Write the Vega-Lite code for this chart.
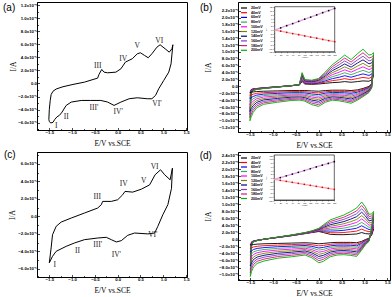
{
"$schema":"https://vega.github.io/schema/vega-lite/v6.json",
"background":"white",
"padding":{"left":2,"top":1,"right":0,"bottom":0},
"columns":2,
"align":"each",
"spacing":{"column":9,"row":0},
"resolve":{"scale":{"color":"independent"},"legend":{"color":"independent"}},
"config":{
"view":{"stroke":"#000","strokeWidth":1},
"axis":{"domainColor":"#000","domainWidth":1,"tickColor":"#000","tickWidth":0.7,"labelColor":"#000","labelFont":"Liberation Sans","labelFontSize":4.3,"labelFontWeight":"bold","titleFont":"Liberation Serif","titleFontSize":7.5,"titleFontWeight":"normal","titleColor":"#000","grid":false,"labelOverlap":false,"labelFlush":false,"labelBound":false},
"text":{"font":"Liberation Serif"},
"line":{"strokeJoin":"round"}
},
"datasets":{
"a":[{"x":-1.51,"y":-5.5},{"x":-1.5,"y":-4.0},{"x":-1.48,"y":-2.6},{"x":-1.46,"y":-1.7},{"x":-1.42,"y":-1.2},{"x":-1.35,"y":-0.85},{"x":-1.2,"y":-0.5},{"x":-0.98,"y":-0.15},{"x":-0.73,"y":0.2},{"x":-0.44,"y":0.82},{"x":-0.41,"y":1.38},{"x":-0.35,"y":2.14},{"x":-0.3,"y":1.73},{"x":-0.22,"y":1.63},{"x":-0.04,"y":1.73},{"x":0.07,"y":2.24},{"x":0.17,"y":3.27},{"x":0.32,"y":3.78},{"x":0.43,"y":4.54},{"x":0.5,"y":4.69},{"x":0.59,"y":4.28},{"x":0.67,"y":3.93},{"x":0.75,"y":4.54},{"x":0.86,"y":5.55},{"x":0.93,"y":5.92},{"x":1.04,"y":5.31},{"x":1.13,"y":4.79},{"x":1.19,"y":5.31},{"x":1.21,"y":5.92},{"x":1.17,"y":3.0},{"x":1.12,"y":1.73},{"x":1.01,"y":0.46},{"x":0.9,"y":-0.81},{"x":0.83,"y":-1.83},{"x":0.75,"y":-2.34},{"x":0.65,"y":-2.34},{"x":0.43,"y":-2.19},{"x":0.25,"y":-2.34},{"x":0.07,"y":-2.85},{"x":-0.08,"y":-3.36},{"x":-0.22,"y":-2.85},{"x":-0.37,"y":-2.6},{"x":-0.59,"y":-2.6},{"x":-0.8,"y":-2.6},{"x":-1.02,"y":-2.85},{"x":-1.13,"y":-3.36},{"x":-1.22,"y":-4.38},{"x":-1.28,"y":-4.89},{"x":-1.33,"y":-5.1},{"x":-1.38,"y":-5.5},{"x":-1.42,"y":-5.95},{"x":-1.47,"y":-6.05},{"x":-1.5,"y":-5.8},{"x":-1.51,"y":-5.5}],
"aL":[{"t":"I","x":-1.35,"y":-6.57},{"t":"II","x":-1.13,"y":-5.2},{"t":"III","x":-0.44,"y":2.6},{"t":"IV","x":0.12,"y":3.8},{"t":"V","x":0.43,"y":5.66},{"t":"VI","x":0.91,"y":6.5},{"t":"III'","x":-0.52,"y":-3.8},{"t":"IV'","x":0.01,"y":-4.4},{"t":"VI'","x":0.86,"y":-3.1}],
"c":[{"x":-1.5,"y":-5.3},{"x":-1.46,"y":-3.6},{"x":-1.43,"y":-2.1},{"x":-1.35,"y":-1.14},{"x":-1.24,"y":-0.65},{"x":-1.02,"y":-0.19},{"x":-0.73,"y":0.38},{"x":-0.44,"y":0.95},{"x":-0.36,"y":1.33},{"x":-0.33,"y":1.71},{"x":-0.14,"y":1.71},{"x":0.0,"y":1.9},{"x":0.11,"y":2.47},{"x":0.16,"y":2.85},{"x":0.33,"y":2.77},{"x":0.52,"y":3.11},{"x":0.7,"y":3.6},{"x":0.82,"y":4.75},{"x":0.94,"y":5.32},{"x":1.03,"y":4.75},{"x":1.15,"y":4.18},{"x":1.2,"y":5.5},{"x":1.18,"y":3.2},{"x":1.1,"y":1.33},{"x":0.99,"y":0.19},{"x":0.88,"y":-1.14},{"x":0.81,"y":-1.9},{"x":0.66,"y":-2.0},{"x":0.37,"y":-1.9},{"x":0.22,"y":-2.16},{"x":0.08,"y":-2.77},{"x":-0.03,"y":-2.92},{"x":-0.14,"y":-2.66},{"x":-0.25,"y":-2.39},{"x":-0.44,"y":-2.47},{"x":-0.73,"y":-2.66},{"x":-0.95,"y":-3.04},{"x":-1.13,"y":-3.42},{"x":-1.35,"y":-3.99},{"x":-1.43,"y":-4.56},{"x":-1.5,"y":-5.3}],
"cL":[{"t":"I","x":-1.38,"y":-5.5},{"t":"II","x":-0.88,"y":-3.9},{"t":"III","x":-0.45,"y":2.16},{"t":"III'","x":-0.44,"y":-3.3},{"t":"IV","x":0.13,"y":3.68},{"t":"IV'","x":-0.03,"y":-4.44},{"t":"V","x":0.57,"y":3.99},{"t":"VI","x":0.81,"y":5.62},{"t":"VI'","x":0.77,"y":-2.16}],
"b":[
{"x":-1.5,"b":"u","20mV":-1.8,"40mV":-2.7,"60mV":-3.6,"80mV":-4.5,"100mV":-5.4,"120mV":-6.4,"140mV":-7.3,"160mV":-8.2,"180mV":-9.1,"200mV":-10},
{"x":-1.47,"b":"u","20mV":-0.9,"40mV":-1,"60mV":-1.1,"80mV":-1.3,"100mV":-1.4,"120mV":-1.5,"140mV":-1.6,"160mV":-1.8,"180mV":-1.9,"200mV":-2},
{"x":-1.43,"b":"u","20mV":-0.7,"40mV":-0.76,"60mV":-0.81,"80mV":-0.87,"100mV":-0.92,"120mV":-0.98,"140mV":-1.03,"160mV":-1.09,"180mV":-1.14,"200mV":-1.2},
{"x":-1.35,"b":"u","20mV":-0.6,"40mV":-0.63,"60mV":-0.67,"80mV":-0.7,"100mV":-0.73,"120mV":-0.77,"140mV":-0.8,"160mV":-0.83,"180mV":-0.87,"200mV":-0.9},
{"x":-1.2,"b":"u","20mV":-0.4,"40mV":-0.42,"60mV":-0.44,"80mV":-0.47,"100mV":-0.49,"120mV":-0.51,"140mV":-0.53,"160mV":-0.56,"180mV":-0.58,"200mV":-0.6},
{"x":-0.9,"b":"u","20mV":-0.1,"40mV":-0.11,"60mV":-0.12,"80mV":-0.13,"100mV":-0.14,"120mV":-0.16,"140mV":-0.17,"160mV":-0.18,"180mV":-0.19,"200mV":-0.2},
{"x":-0.6,"b":"u","20mV":0.2,"40mV":0.2,"60mV":0.2,"80mV":0.2,"100mV":0.2,"120mV":0.2,"140mV":0.2,"160mV":0.2,"180mV":0.2,"200mV":0.2},
{"x":-0.42,"b":"u","20mV":0.4,"40mV":0.42,"60mV":0.44,"80mV":0.47,"100mV":0.49,"120mV":0.51,"140mV":0.53,"160mV":0.56,"180mV":0.58,"200mV":0.6},
{"x":-0.36,"b":"u","20mV":1.4,"40mV":1.69,"60mV":1.98,"80mV":2.27,"100mV":2.56,"120mV":2.84,"140mV":3.13,"160mV":3.42,"180mV":3.71,"200mV":4},
{"x":-0.3,"b":"u","20mV":0.7,"40mV":0.84,"60mV":0.99,"80mV":1.13,"100mV":1.28,"120mV":1.42,"140mV":1.57,"160mV":1.71,"180mV":1.86,"200mV":2},
{"x":-0.15,"b":"u","20mV":0.6,"40mV":0.73,"60mV":0.87,"80mV":1,"100mV":1.13,"120mV":1.27,"140mV":1.4,"160mV":1.53,"180mV":1.67,"200mV":1.8},
{"x":0,"b":"u","20mV":0.7,"40mV":0.88,"60mV":1.06,"80mV":1.23,"100mV":1.41,"120mV":1.59,"140mV":1.77,"160mV":1.94,"180mV":2.12,"200mV":2.3},
{"x":0.15,"b":"u","20mV":0.9,"40mV":1.27,"60mV":1.63,"80mV":2,"100mV":2.37,"120mV":2.73,"140mV":3.1,"160mV":3.47,"180mV":3.83,"200mV":4.2},
{"x":0.3,"b":"u","20mV":1.1,"40mV":1.68,"60mV":2.26,"80mV":2.83,"100mV":3.41,"120mV":3.99,"140mV":4.57,"160mV":5.14,"180mV":5.72,"200mV":6.3},
{"x":0.45,"b":"u","20mV":1.2,"40mV":1.93,"60mV":2.67,"80mV":3.4,"100mV":4.13,"120mV":4.87,"140mV":5.6,"160mV":6.33,"180mV":7.07,"200mV":7.8},
{"x":0.57,"b":"u","20mV":1.4,"40mV":2.26,"60mV":3.11,"80mV":3.97,"100mV":4.82,"120mV":5.68,"140mV":6.53,"160mV":7.39,"180mV":8.24,"200mV":9.1},
{"x":0.71,"b":"u","20mV":1.2,"40mV":1.93,"60mV":2.67,"80mV":3.4,"100mV":4.13,"120mV":4.87,"140mV":5.6,"160mV":6.33,"180mV":7.07,"200mV":7.8},
{"x":0.85,"b":"u","20mV":1.4,"40mV":2.3,"60mV":3.2,"80mV":4.1,"100mV":5,"120mV":5.9,"140mV":6.8,"160mV":7.7,"180mV":8.6,"200mV":9.5},
{"x":0.97,"b":"u","20mV":1.6,"40mV":2.62,"60mV":3.64,"80mV":4.67,"100mV":5.69,"120mV":6.71,"140mV":7.73,"160mV":8.76,"180mV":9.78,"200mV":10.8},
{"x":1.1,"b":"u","20mV":1.5,"40mV":2.34,"60mV":3.19,"80mV":4.03,"100mV":4.88,"120mV":5.72,"140mV":6.56,"160mV":7.41,"180mV":8.25,"200mV":9.1},
{"x":1.16,"b":"u","20mV":1.9,"40mV":2.72,"60mV":3.54,"80mV":4.37,"100mV":5.19,"120mV":6.01,"140mV":6.83,"160mV":7.66,"180mV":8.48,"200mV":9.3},
{"x":1.2,"b":"u","20mV":3.5,"40mV":4.2,"60mV":4.9,"80mV":5.6,"100mV":6.3,"120mV":7,"140mV":7.7,"160mV":8.4,"180mV":9.1,"200mV":9.8},
{"x":-1.5,"b":"l","20mV":-1.8,"40mV":-2.7,"60mV":-3.6,"80mV":-4.5,"100mV":-5.4,"120mV":-6.4,"140mV":-7.3,"160mV":-8.2,"180mV":-9.1,"200mV":-10},
{"x":-1.47,"b":"l","20mV":-1.7,"40mV":-2.49,"60mV":-3.28,"80mV":-4.07,"100mV":-4.86,"120mV":-5.64,"140mV":-6.43,"160mV":-7.22,"180mV":-8.01,"200mV":-8.8},
{"x":-1.43,"b":"l","20mV":-1.6,"40mV":-2.27,"60mV":-2.93,"80mV":-3.6,"100mV":-4.27,"120mV":-4.93,"140mV":-5.6,"160mV":-6.27,"180mV":-6.93,"200mV":-7.6},
{"x":-1.35,"b":"l","20mV":-1.5,"40mV":-2.02,"60mV":-2.54,"80mV":-3.07,"100mV":-3.59,"120mV":-4.11,"140mV":-4.63,"160mV":-5.16,"180mV":-5.68,"200mV":-6.2},
{"x":-1.2,"b":"l","20mV":-1.4,"40mV":-1.82,"60mV":-2.24,"80mV":-2.67,"100mV":-3.09,"120mV":-3.51,"140mV":-3.93,"160mV":-4.36,"180mV":-4.78,"200mV":-5.2},
{"x":-0.9,"b":"l","20mV":-1.3,"40mV":-1.67,"60mV":-2.03,"80mV":-2.4,"100mV":-2.77,"120mV":-3.13,"140mV":-3.5,"160mV":-3.87,"180mV":-4.23,"200mV":-4.6},
{"x":-0.6,"b":"l","20mV":-1.2,"40mV":-1.52,"60mV":-1.84,"80mV":-2.17,"100mV":-2.49,"120mV":-2.81,"140mV":-3.13,"160mV":-3.46,"180mV":-3.78,"200mV":-4.1},
{"x":-0.42,"b":"l","20mV":-1.2,"40mV":-1.51,"60mV":-1.82,"80mV":-2.13,"100mV":-2.44,"120mV":-2.76,"140mV":-3.07,"160mV":-3.38,"180mV":-3.69,"200mV":-4},
{"x":-0.36,"b":"l","20mV":-1.2,"40mV":-1.52,"60mV":-1.84,"80mV":-2.17,"100mV":-2.49,"120mV":-2.81,"140mV":-3.13,"160mV":-3.46,"180mV":-3.78,"200mV":-4.1},
{"x":-0.3,"b":"l","20mV":-1.2,"40mV":-1.54,"60mV":-1.89,"80mV":-2.23,"100mV":-2.58,"120mV":-2.92,"140mV":-3.27,"160mV":-3.61,"180mV":-3.96,"200mV":-4.3},
{"x":-0.15,"b":"l","20mV":-1.3,"40mV":-1.74,"60mV":-2.19,"80mV":-2.63,"100mV":-3.08,"120mV":-3.52,"140mV":-3.97,"160mV":-4.41,"180mV":-4.86,"200mV":-5.3},
{"x":0,"b":"l","20mV":-1.4,"40mV":-1.89,"60mV":-2.38,"80mV":-2.87,"100mV":-3.36,"120mV":-3.84,"140mV":-4.33,"160mV":-4.82,"180mV":-5.31,"200mV":-5.8},
{"x":0.15,"b":"l","20mV":-1.2,"40mV":-1.58,"60mV":-1.96,"80mV":-2.33,"100mV":-2.71,"120mV":-3.09,"140mV":-3.47,"160mV":-3.84,"180mV":-4.22,"200mV":-4.6},
{"x":0.3,"b":"l","20mV":-1.1,"40mV":-1.42,"60mV":-1.74,"80mV":-2.07,"100mV":-2.39,"120mV":-2.71,"140mV":-3.03,"160mV":-3.36,"180mV":-3.68,"200mV":-4},
{"x":0.45,"b":"l","20mV":-1.1,"40mV":-1.44,"60mV":-1.79,"80mV":-2.13,"100mV":-2.48,"120mV":-2.82,"140mV":-3.17,"160mV":-3.51,"180mV":-3.86,"200mV":-4.2},
{"x":0.57,"b":"l","20mV":-1.1,"40mV":-1.48,"60mV":-1.86,"80mV":-2.23,"100mV":-2.61,"120mV":-2.99,"140mV":-3.37,"160mV":-3.74,"180mV":-4.12,"200mV":-4.5},
{"x":0.71,"b":"l","20mV":-1.2,"40mV":-1.61,"60mV":-2.02,"80mV":-2.43,"100mV":-2.84,"120mV":-3.26,"140mV":-3.67,"160mV":-4.08,"180mV":-4.49,"200mV":-4.9},
{"x":0.85,"b":"l","20mV":-1,"40mV":-1.33,"60mV":-1.67,"80mV":-2,"100mV":-2.33,"120mV":-2.67,"140mV":-3,"160mV":-3.33,"180mV":-3.67,"200mV":-4},
{"x":0.97,"b":"l","20mV":-0.6,"40mV":-0.87,"60mV":-1.13,"80mV":-1.4,"100mV":-1.67,"120mV":-1.93,"140mV":-2.2,"160mV":-2.47,"180mV":-2.73,"200mV":-3},
{"x":1.1,"b":"l","20mV":0,"40mV":-0.2,"60mV":-0.4,"80mV":-0.6,"100mV":-0.8,"120mV":-1,"140mV":-1.2,"160mV":-1.4,"180mV":-1.6,"200mV":-1.8},
{"x":1.16,"b":"l","20mV":0.8,"40mV":0.66,"60mV":0.51,"80mV":0.37,"100mV":0.22,"120mV":0.08,"140mV":-0.07,"160mV":-0.21,"180mV":-0.36,"200mV":-0.5},
{"x":1.2,"b":"l","20mV":3.5,"40mV":4.2,"60mV":4.9,"80mV":5.6,"100mV":6.3,"120mV":7,"140mV":7.7,"160mV":8.4,"180mV":9.1,"200mV":9.8}
],
"d":[
{"x":-1.5,"b":"u","20mV":-1.6,"40mV":-2.59,"60mV":-3.58,"80mV":-4.57,"100mV":-5.56,"120mV":-6.54,"140mV":-7.53,"160mV":-8.52,"180mV":-9.51,"200mV":-10.5},
{"x":-1.47,"b":"u","20mV":-0.6,"40mV":-0.7,"60mV":-0.8,"80mV":-0.9,"100mV":-1,"120mV":-1.1,"140mV":-1.2,"160mV":-1.3,"180mV":-1.4,"200mV":-1.5},
{"x":-1.43,"b":"u","20mV":-0.4,"40mV":-0.42,"60mV":-0.44,"80mV":-0.47,"100mV":-0.49,"120mV":-0.51,"140mV":-0.53,"160mV":-0.56,"180mV":-0.58,"200mV":-0.6},
{"x":-1.35,"b":"u","20mV":-0.2,"40mV":-0.21,"60mV":-0.22,"80mV":-0.23,"100mV":-0.24,"120mV":-0.26,"140mV":-0.27,"160mV":-0.28,"180mV":-0.29,"200mV":-0.3},
{"x":-1.2,"b":"u","20mV":0.1,"40mV":0.1,"60mV":0.1,"80mV":0.1,"100mV":0.1,"120mV":0.1,"140mV":0.1,"160mV":0.1,"180mV":0.1,"200mV":0.1},
{"x":-0.9,"b":"u","20mV":0.6,"40mV":0.61,"60mV":0.62,"80mV":0.63,"100mV":0.64,"120mV":0.66,"140mV":0.67,"160mV":0.68,"180mV":0.69,"200mV":0.7},
{"x":-0.6,"b":"u","20mV":1.1,"40mV":1.12,"60mV":1.14,"80mV":1.17,"100mV":1.19,"120mV":1.21,"140mV":1.23,"160mV":1.26,"180mV":1.28,"200mV":1.3},
{"x":-0.3,"b":"u","20mV":1.7,"40mV":1.73,"60mV":1.77,"80mV":1.8,"100mV":1.83,"120mV":1.87,"140mV":1.9,"160mV":1.93,"180mV":1.97,"200mV":2},
{"x":-0.15,"b":"u","20mV":2,"40mV":2.06,"60mV":2.11,"80mV":2.17,"100mV":2.22,"120mV":2.28,"140mV":2.33,"160mV":2.39,"180mV":2.44,"200mV":2.5},
{"x":0,"b":"u","20mV":2.3,"40mV":2.4,"60mV":2.5,"80mV":2.6,"100mV":2.7,"120mV":2.8,"140mV":2.9,"160mV":3,"180mV":3.1,"200mV":3.2},
{"x":0.1,"b":"u","20mV":2,"40mV":2.24,"60mV":2.49,"80mV":2.73,"100mV":2.98,"120mV":3.22,"140mV":3.47,"160mV":3.71,"180mV":3.96,"200mV":4.2},
{"x":0.25,"b":"u","20mV":1.5,"40mV":1.96,"60mV":2.41,"80mV":2.87,"100mV":3.32,"120mV":3.78,"140mV":4.23,"160mV":4.69,"180mV":5.14,"200mV":5.6},
{"x":0.4,"b":"u","20mV":1.4,"40mV":1.94,"60mV":2.49,"80mV":3.03,"100mV":3.58,"120mV":4.12,"140mV":4.67,"160mV":5.21,"180mV":5.76,"200mV":6.3},
{"x":0.55,"b":"u","20mV":1.4,"40mV":2.02,"60mV":2.64,"80mV":3.27,"100mV":3.89,"120mV":4.51,"140mV":5.13,"160mV":5.76,"180mV":6.38,"200mV":7},
{"x":0.7,"b":"u","20mV":1.5,"40mV":2.22,"60mV":2.94,"80mV":3.67,"100mV":4.39,"120mV":5.11,"140mV":5.83,"160mV":6.56,"180mV":7.28,"200mV":8},
{"x":0.83,"b":"u","20mV":1.6,"40mV":2.42,"60mV":3.24,"80mV":4.07,"100mV":4.89,"120mV":5.71,"140mV":6.53,"160mV":7.36,"180mV":8.18,"200mV":9},
{"x":0.94,"b":"u","20mV":2,"40mV":2.97,"60mV":3.93,"80mV":4.9,"100mV":5.87,"120mV":6.83,"140mV":7.8,"160mV":8.77,"180mV":9.73,"200mV":10.7},
{"x":1.02,"b":"u","20mV":1.7,"40mV":2.54,"60mV":3.39,"80mV":4.23,"100mV":5.08,"120mV":5.92,"140mV":6.76,"160mV":7.61,"180mV":8.45,"200mV":9.3},
{"x":1.1,"b":"u","20mV":1.6,"40mV":2.22,"60mV":2.84,"80mV":3.47,"100mV":4.09,"120mV":4.71,"140mV":5.33,"160mV":5.96,"180mV":6.58,"200mV":7.2},
{"x":1.16,"b":"u","20mV":1.9,"40mV":2.5,"60mV":3.1,"80mV":3.7,"100mV":4.3,"120mV":4.9,"140mV":5.5,"160mV":6.1,"180mV":6.7,"200mV":7.3},
{"x":1.2,"b":"u","20mV":3,"40mV":3.56,"60mV":4.11,"80mV":4.67,"100mV":5.22,"120mV":5.78,"140mV":6.33,"160mV":6.89,"180mV":7.44,"200mV":8},
{"x":-1.5,"b":"l","20mV":-1.6,"40mV":-2.59,"60mV":-3.58,"80mV":-4.57,"100mV":-5.56,"120mV":-6.54,"140mV":-7.53,"160mV":-8.52,"180mV":-9.51,"200mV":-10.5},
{"x":-1.47,"b":"l","20mV":-1.5,"40mV":-2.33,"60mV":-3.17,"80mV":-4,"100mV":-4.83,"120mV":-5.67,"140mV":-6.5,"160mV":-7.33,"180mV":-8.17,"200mV":-9},
{"x":-1.43,"b":"l","20mV":-1.4,"40mV":-2.11,"60mV":-2.82,"80mV":-3.53,"100mV":-4.24,"120mV":-4.96,"140mV":-5.67,"160mV":-6.38,"180mV":-7.09,"200mV":-7.8},
{"x":-1.35,"b":"l","20mV":-1.3,"40mV":-1.91,"60mV":-2.52,"80mV":-3.13,"100mV":-3.74,"120mV":-4.36,"140mV":-4.97,"160mV":-5.58,"180mV":-6.19,"200mV":-6.8},
{"x":-1.2,"b":"l","20mV":-1.2,"40mV":-1.74,"60mV":-2.29,"80mV":-2.83,"100mV":-3.38,"120mV":-3.92,"140mV":-4.47,"160mV":-5.01,"180mV":-5.56,"200mV":-6.1},
{"x":-0.9,"b":"l","20mV":-1.1,"40mV":-1.57,"60mV":-2.03,"80mV":-2.5,"100mV":-2.97,"120mV":-3.43,"140mV":-3.9,"160mV":-4.37,"180mV":-4.83,"200mV":-5.3},
{"x":-0.6,"b":"l","20mV":-1,"40mV":-1.43,"60mV":-1.87,"80mV":-2.3,"100mV":-2.73,"120mV":-3.17,"140mV":-3.6,"160mV":-4.03,"180mV":-4.47,"200mV":-4.9},
{"x":-0.3,"b":"l","20mV":-0.9,"40mV":-1.29,"60mV":-1.68,"80mV":-2.07,"100mV":-2.46,"120mV":-2.84,"140mV":-3.23,"160mV":-3.62,"180mV":-4.01,"200mV":-4.4},
{"x":-0.15,"b":"l","20mV":-1,"40mV":-1.47,"60mV":-1.93,"80mV":-2.4,"100mV":-2.87,"120mV":-3.33,"140mV":-3.8,"160mV":-4.27,"180mV":-4.73,"200mV":-5.2},
{"x":0,"b":"l","20mV":-1.2,"40mV":-1.8,"60mV":-2.4,"80mV":-3,"100mV":-3.6,"120mV":-4.2,"140mV":-4.8,"160mV":-5.4,"180mV":-6,"200mV":-6.6},
{"x":0.1,"b":"l","20mV":-1.1,"40mV":-1.67,"60mV":-2.23,"80mV":-2.8,"100mV":-3.37,"120mV":-3.93,"140mV":-4.5,"160mV":-5.07,"180mV":-5.63,"200mV":-6.2},
{"x":0.25,"b":"l","20mV":-0.9,"40mV":-1.34,"60mV":-1.79,"80mV":-2.23,"100mV":-2.68,"120mV":-3.12,"140mV":-3.57,"160mV":-4.01,"180mV":-4.46,"200mV":-4.9},
{"x":0.4,"b":"l","20mV":-0.8,"40mV":-1.2,"60mV":-1.6,"80mV":-2,"100mV":-2.4,"120mV":-2.8,"140mV":-3.2,"160mV":-3.6,"180mV":-4,"200mV":-4.4},
{"x":0.55,"b":"l","20mV":-0.8,"40mV":-1.19,"60mV":-1.58,"80mV":-1.97,"100mV":-2.36,"120mV":-2.74,"140mV":-3.13,"160mV":-3.52,"180mV":-3.91,"200mV":-4.3},
{"x":0.7,"b":"l","20mV":-0.8,"40mV":-1.21,"60mV":-1.62,"80mV":-2.03,"100mV":-2.44,"120mV":-2.86,"140mV":-3.27,"160mV":-3.68,"180mV":-4.09,"200mV":-4.5},
{"x":0.83,"b":"l","20mV":-0.9,"40mV":-1.33,"60mV":-1.77,"80mV":-2.2,"100mV":-2.63,"120mV":-3.07,"140mV":-3.5,"160mV":-3.93,"180mV":-4.37,"200mV":-4.8},
{"x":0.94,"b":"l","20mV":-0.5,"40mV":-0.78,"60mV":-1.06,"80mV":-1.33,"100mV":-1.61,"120mV":-1.89,"140mV":-2.17,"160mV":-2.44,"180mV":-2.72,"200mV":-3},
{"x":1.02,"b":"l","20mV":0,"40mV":-0.17,"60mV":-0.33,"80mV":-0.5,"100mV":-0.67,"120mV":-0.83,"140mV":-1,"160mV":-1.17,"180mV":-1.33,"200mV":-1.5},
{"x":1.1,"b":"l","20mV":0.4,"40mV":0.3,"60mV":0.2,"80mV":0.1,"100mV":0,"120mV":-0.1,"140mV":-0.2,"160mV":-0.3,"180mV":-0.4,"200mV":-0.5},
{"x":1.16,"b":"l","20mV":1.3,"40mV":1.54,"60mV":1.79,"80mV":2.03,"100mV":2.28,"120mV":2.52,"140mV":2.77,"160mV":3.01,"180mV":3.26,"200mV":3.5},
{"x":1.2,"b":"l","20mV":3,"40mV":3.56,"60mV":4.11,"80mV":4.67,"100mV":5.22,"120mV":5.78,"140mV":6.33,"160mV":6.89,"180mV":7.44,"200mV":8}
],
"bIn":[{"v":0,"a":-0.44,"c":-0.44},{"v":20,"a":0.71,"c":-1.06},{"v":40,"a":1.87,"c":-1.69},{"v":60,"a":3.02,"c":-2.31},{"v":80,"a":4.18,"c":-2.94},{"v":100,"a":5.33,"c":-3.56},{"v":120,"a":6.48,"c":-4.18},{"v":140,"a":7.64,"c":-4.81},{"v":160,"a":8.79,"c":-5.43},{"v":180,"a":9.95,"c":-6.06},{"v":200,"a":11.1,"c":-6.68}],
"dIn":[{"v":0,"a":-1,"c":-1},{"v":20,"a":-0.04,"c":-1.51},{"v":40,"a":0.9,"c":-2.04},{"v":60,"a":1.85,"c":-2.58},{"v":80,"a":2.79,"c":-3.11},{"v":100,"a":3.73,"c":-3.64},{"v":120,"a":4.67,"c":-4.17},{"v":140,"a":5.61,"c":-4.7},{"v":160,"a":6.56,"c":-5.24},{"v":180,"a":7.5,"c":-5.77},{"v":200,"a":8.44,"c":-6.3}]
},
"concat":[
{
"width":150,"height":128,
"layer":[
{"data":{"name":"a"},"mark":{"type":"line","color":"#000","strokeWidth":1},
"encoding":{
"x":{"field":"x","type":"quantitative","scale":{"domain":[-1.77,1.52],"nice":false,"zero":false},"axis":{"title":"E/V vs.SCE","titleY":13,"titleBaseline":"middle","labelOverlap":false,"tickCount":200,"values":[-1.75,-1.5,-1.25,-1,-0.75,-0.5,-0.25,0,0.25,0.5,0.75,1,1.25,1.5],"labelExpr":"abs(datum.value*2-round(datum.value*2))<0.01 ? format(datum.value,'.1f') : ''","tickSize":{"condition":{"test":"abs(datum.value*2-round(datum.value*2))<0.01","value":-2.5},"value":-1.5},"labelPadding":2.5}},
"y":{"field":"y","type":"quantitative","scale":{"domain":[-7.12,12.46],"nice":false,"zero":false},"axis":{"title":"I/A","titleX":-24,"titleBaseline":"middle","labelOverlap":false,"tickCount":200,"values":[-7,-6,-5,-4,-3,-2,-1,0,1,2,3,4,5,6,7,8,9,10,11,12],"labelExpr":"datum.value%2!=0 ? '' : datum.value==0 ? '0.0' : abs(datum.value)>=10 ? format(datum.value/10,'.1f')+'x10⁻⁴' : format(datum.value,'.1f')+'x10⁻⁵'","tickSize":{"condition":{"test":"datum.value%2==0","value":-2.5},"value":-1.5},"labelPadding":3}},
"order":{"value":null}}},
{"data":{"name":"aL"},"mark":{"type":"text","font":"Liberation Serif","fontSize":7.5,"color":"#222"},"encoding":{"x":{"field":"x","type":"quantitative"},"y":{"field":"y","type":"quantitative"},"text":{"field":"t"}}},
{"data":{"values":[{}]},"mark":{"type":"text","text":"(a)","font":"Liberation Sans","fontSize":10,"align":"left","baseline":"top","color":"#000"},"encoding":{"x":{"datum":-2.516},"y":{"datum":12.3}}}
]
},
{
"width":152,"height":130,
"resolve":{"scale":{"x":"independent","y":"independent"}},
"layer":[
{"layer":[
{"data":{"name":"b"},"transform":[{"fold":["20mV","40mV","60mV","80mV","100mV","120mV","140mV","160mV","180mV","200mV"],"as":["r","y"]}],
"mark":{"type":"line","strokeWidth":0.9},
"encoding":{
"x":{"field":"x","type":"quantitative","scale":{"domain":[-1.76,1.56],"nice":false,"zero":false},"axis":{"title":"E/V vs.SCE","titleY":13,"titleBaseline":"middle","labelOverlap":false,"tickCount":200,"values":[-1.75,-1.5,-1.25,-1,-0.75,-0.5,-0.25,0,0.25,0.5,0.75,1,1.25,1.5],"labelExpr":"abs(datum.value*2-round(datum.value*2))<0.01 ? format(datum.value,'.1f') : ''","tickSize":{"condition":{"test":"abs(datum.value*2-round(datum.value*2))<0.01","value":-2.5},"value":-1.5},"labelPadding":2.5}},
"y":{"field":"y","type":"quantitative","scale":{"domain":[-13.25,24.53],"nice":false,"zero":false},"axis":{"title":"I/A","titleX":-30,"titleBaseline":"middle","labelOverlap":false,"tickCount":200,"values":[-12,-10,-8,-6,-4,-2,0,2,4,6,8,10,12,14,16,18,20,22],"labelExpr":"datum.value==0 ? '0.0' : abs(datum.value)>=10 ? format(datum.value/10,'.1f')+'x10⁻⁴' : format(datum.value,'.1f')+'x10⁻⁵'","tickSize":-2.5,"labelPadding":3}},
"color":{"field":"r","type":"nominal","scale":{"domain":["20mV","40mV","60mV","80mV","100mV","120mV","140mV","160mV","180mV","200mV"],"range":["#000000","#ff0000","#0000ff","#33aa55","#ff00ff","#808000","#000080","#7b3fbf","#d6187e","#00b000"]},"legend":{"orient":"top-left","offset":4,"title":null,"symbolType":"M-3,0H3","symbolSize":4,"symbolStrokeWidth":1.2,"labelFontSize":3.6,"labelFont":"Liberation Sans","labelFontWeight":"bold","rowPadding":0.7,"labelOffset":5,"padding":0,"labelColor":"#000"}},
"detail":{"field":"b"}}},
{"data":{"values":[{}]},"mark":{"type":"text","text":"(b)","font":"Liberation Sans","fontSize":10,"align":"left","baseline":"top","color":"#000"},"encoding":{"x":{"datum":-2.59},"y":{"datum":24.2}}}
]},
{"layer":[
{"data":{"values":[{}]},"mark":{"type":"rect","fill":"#fff","stroke":"#000","strokeWidth":0.6},"encoding":{"x":{"datum":0,"type":"quantitative","scale":{"domain":[0,200],"range":[36.7,96.7],"nice":false,"zero":false},"axis":{"orient":"bottom","offset":-80.3,"title":"v/mV","titleFontSize":2.5,"titleFont":"Liberation Sans","titlePadding":0.5,"labelOverlap":false,"tickCount":200,"values":[0,20,40,60,80,100,120,140,160,180,200],"labelFontSize":2,"labelFontWeight":"normal","labelPadding":0.3,"tickSize":1,"tickWidth":0.4,"domainWidth":0.6}},"x2":{"datum":200},"y":{"datum":-12,"type":"quantitative","scale":{"domain":[-12,12],"range":[49.7,4.7],"nice":false,"zero":false},"axis":{"orient":"left","offset":-36.7,"title":"I/A","titleFontSize":2.5,"titleFont":"Liberation Sans","titlePadding":0.5,"labelOverlap":false,"tickCount":200,"values":[-12,-10,-8,-6,-4,-2,0,2,4,6,8,10,12],"labelFontSize":2,"labelFontWeight":"normal","labelPadding":0.3,"tickSize":1,"tickWidth":0.4,"domainWidth":0.6}},"y2":{"datum":12}}},
{"data":{"name":"bIn"},"mark":{"type":"line","color":"#e0a0e8","strokeWidth":1.3},"encoding":{"x":{"field":"v","type":"quantitative"},"y":{"field":"a","type":"quantitative"}}},
{"data":{"name":"bIn"},"mark":{"type":"line","color":"#f4a3a8","strokeWidth":1.3},"encoding":{"x":{"field":"v","type":"quantitative"},"y":{"field":"c","type":"quantitative"}}},
{"data":{"name":"bIn"},"transform":[{"filter":"datum.v>0"}],"mark":{"type":"circle","color":"#000","size":3,"opacity":1},"encoding":{"x":{"field":"v","type":"quantitative"},"y":{"field":"a","type":"quantitative"}}},
{"data":{"name":"bIn"},"transform":[{"filter":"datum.v>0"}],"mark":{"type":"circle","color":"#e00000","size":3,"opacity":1},"encoding":{"x":{"field":"v","type":"quantitative"},"y":{"field":"c","type":"quantitative"}}}
]}
]
},
{
"width":150,"height":125,
"layer":[
{"data":{"name":"c"},"mark":{"type":"line","color":"#000","strokeWidth":1},
"encoding":{
"x":{"field":"x","type":"quantitative","scale":{"domain":[-1.77,1.52],"nice":false,"zero":false},"axis":{"title":"E/V vs.SCE","titleY":13,"titleBaseline":"middle","labelOverlap":false,"tickCount":200,"values":[-1.75,-1.5,-1.25,-1,-0.75,-0.5,-0.25,0,0.25,0.5,0.75,1,1.25,1.5],"labelExpr":"abs(datum.value*2-round(datum.value*2))<0.01 ? format(datum.value,'.1f') : ''","tickSize":{"condition":{"test":"abs(datum.value*2-round(datum.value*2))<0.01","value":-2.5},"value":-1.5},"labelPadding":2.5}},
"y":{"field":"y","type":"quantitative","scale":{"domain":[-6.92,7.35],"nice":false,"zero":false},"axis":{"title":"I/A","titleX":-25,"titleBaseline":"middle","labelOverlap":false,"tickCount":200,"values":[-6,-5,-4,-3,-2,-1,0,1,2,3,4,5,6,7],"labelExpr":"datum.value%2!=0 ? '' : datum.value==0 ? '0.0' : format(datum.value,'.1f')+'x10⁻⁵'","tickSize":{"condition":{"test":"datum.value%2==0","value":-2.5},"value":-1.5},"labelPadding":3}},
"order":{"value":null}}},
{"data":{"name":"cL"},"mark":{"type":"text","font":"Liberation Serif","fontSize":7.5,"color":"#222"},"encoding":{"x":{"field":"x","type":"quantitative"},"y":{"field":"y","type":"quantitative"},"text":{"field":"t"}}},
{"data":{"values":[{}]},"mark":{"type":"text","text":"(c)","font":"Liberation Sans","fontSize":10,"align":"left","baseline":"top","color":"#000"},"encoding":{"x":{"datum":-2.494},"y":{"datum":7.58}}}
]
},
{
"width":152,"height":128,
"resolve":{"scale":{"x":"independent","y":"independent"}},
"layer":[
{"layer":[
{"data":{"name":"d"},"transform":[{"fold":["20mV","40mV","60mV","80mV","100mV","120mV","140mV","160mV","180mV","200mV"],"as":["r","y"]}],
"mark":{"type":"line","strokeWidth":0.9},
"encoding":{
"x":{"field":"x","type":"quantitative","scale":{"domain":[-1.77,1.56],"nice":false,"zero":false},"axis":{"title":"E/V vs.SCE","titleY":13,"titleBaseline":"middle","labelOverlap":false,"tickCount":200,"values":[-1.75,-1.5,-1.25,-1,-0.75,-0.5,-0.25,0,0.25,0.5,0.75,1,1.25,1.5],"labelExpr":"abs(datum.value*2-round(datum.value*2))<0.01 ? format(datum.value,'.1f') : ''","tickSize":{"condition":{"test":"abs(datum.value*2-round(datum.value*2))<0.01","value":-2.5},"value":-1.5},"labelPadding":2.5}},
"y":{"field":"y","type":"quantitative","scale":{"domain":[-11.51,24.94],"nice":false,"zero":false},"axis":{"title":"I/A","titleX":-30,"titleBaseline":"middle","labelOverlap":false,"tickCount":200,"values":[-10,-8,-6,-4,-2,0,2,4,6,8,10,12,14,16,18,20,22,24],"labelExpr":"datum.value==0 ? '0.0' : abs(datum.value)>=10 ? format(datum.value/10,'.1f')+'x10⁻⁴' : format(datum.value,'.1f')+'x10⁻⁵'","tickSize":-2.5,"labelPadding":3}},
"color":{"field":"r","type":"nominal","scale":{"domain":["20mV","40mV","60mV","80mV","100mV","120mV","140mV","160mV","180mV","200mV"],"range":["#000000","#ff0000","#0000ff","#33aa55","#ff00ff","#808000","#000080","#7b3fbf","#d6187e","#00b000"]},"legend":{"orient":"top-left","offset":4,"title":null,"symbolType":"M-3,0H3","symbolSize":4,"symbolStrokeWidth":1.2,"labelFontSize":3.6,"labelFont":"Liberation Sans","labelFontWeight":"bold","rowPadding":0.5,"labelOffset":5,"padding":0,"labelColor":"#000"}},
"detail":{"field":"b"}}},
{"data":{"values":[{}]},"mark":{"type":"text","text":"(d)","font":"Liberation Sans","fontSize":10,"align":"left","baseline":"top","color":"#000"},"encoding":{"x":{"datum":-2.61},"y":{"datum":25.2}}}
]},
{"layer":[
{"data":{"values":[{}]},"mark":{"type":"rect","fill":"#fff","stroke":"#000","strokeWidth":0.6},"encoding":{"x":{"datum":0,"type":"quantitative","scale":{"domain":[0,200],"range":[36.3,96.3],"nice":false,"zero":false},"axis":{"orient":"bottom","offset":-80,"title":"v/mV","titleFontSize":2.5,"titleFont":"Liberation Sans","titlePadding":0.5,"labelOverlap":false,"tickCount":200,"values":[0,20,40,60,80,100,120,140,160,180,200],"labelFontSize":2,"labelFontWeight":"normal","labelPadding":0.3,"tickSize":1,"tickWidth":0.4,"domainWidth":0.6}},"x2":{"datum":200},"y":{"datum":-12,"type":"quantitative","scale":{"domain":[-12,12],"range":[48,3],"nice":false,"zero":false},"axis":{"orient":"left","offset":-36.3,"title":"I/A","titleFontSize":2.5,"titleFont":"Liberation Sans","titlePadding":0.5,"labelOverlap":false,"tickCount":200,"values":[-12,-10,-8,-6,-4,-2,0,2,4,6,8,10,12],"labelFontSize":2,"labelFontWeight":"normal","labelPadding":0.3,"tickSize":1,"tickWidth":0.4,"domainWidth":0.6}},"y2":{"datum":12}}},
{"data":{"name":"dIn"},"mark":{"type":"line","color":"#e0a0e8","strokeWidth":1.3},"encoding":{"x":{"field":"v","type":"quantitative"},"y":{"field":"a","type":"quantitative"}}},
{"data":{"name":"dIn"},"mark":{"type":"line","color":"#f4a3a8","strokeWidth":1.3},"encoding":{"x":{"field":"v","type":"quantitative"},"y":{"field":"c","type":"quantitative"}}},
{"data":{"name":"dIn"},"transform":[{"filter":"datum.v>0"}],"mark":{"type":"circle","color":"#000","size":3,"opacity":1},"encoding":{"x":{"field":"v","type":"quantitative"},"y":{"field":"a","type":"quantitative"}}},
{"data":{"name":"dIn"},"transform":[{"filter":"datum.v>0"}],"mark":{"type":"circle","color":"#e00000","size":3,"opacity":1},"encoding":{"x":{"field":"v","type":"quantitative"},"y":{"field":"c","type":"quantitative"}}}
]}
]
}
]
}
